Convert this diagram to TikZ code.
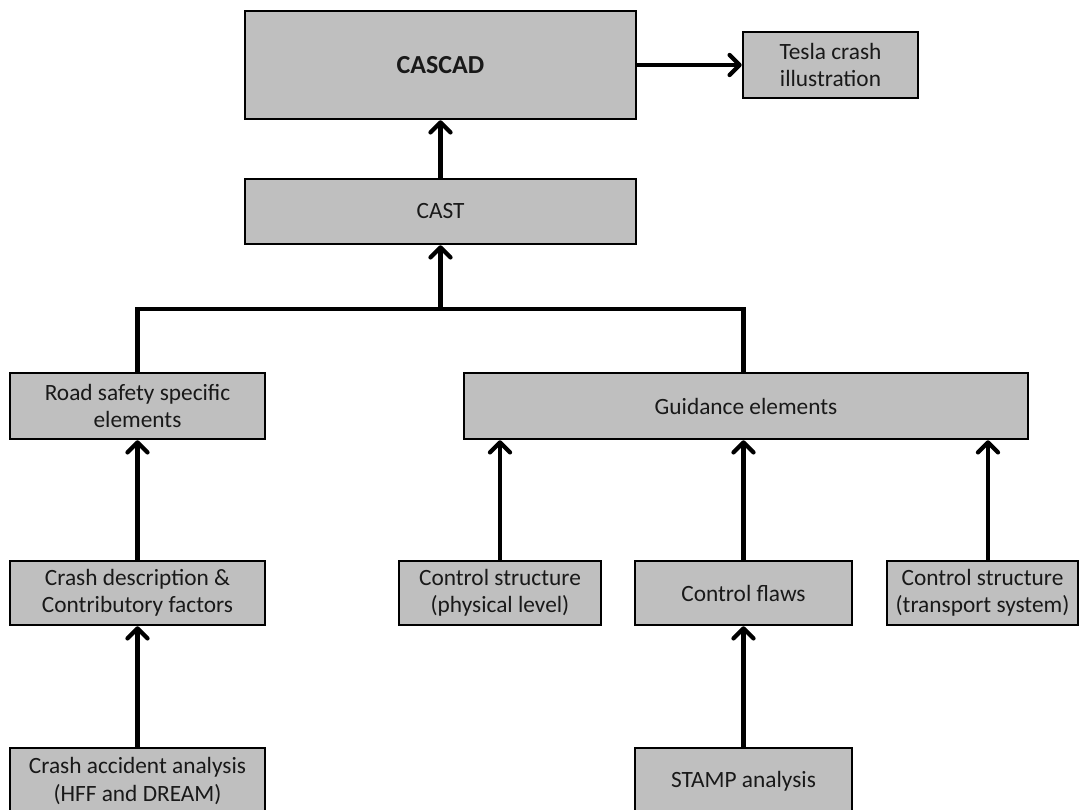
\documentclass[tikz,border=0pt]{standalone}
\usepackage{fontspec}
\setmainfont{Carlito}
\usetikzlibrary{arrows.meta}
\definecolor{boxfill}{HTML}{BFBFBF}
\begin{document}
\begin{tikzpicture}[x=0.75pt,y=-0.75pt,
  block/.style={draw=black,fill=boxfill,line width=1.9pt,inner sep=2pt,
    align=center,font=\fontsize{17.5}{20.5}\selectfont,text=black!90},
  link/.style={line width=3.2pt,draw=black},
  arrowlink/.style={link,-{Straight Barb[length=7.5pt,width=15pt,line cap=round,line join=round]}}]
\useasboundingbox (0,0) rectangle (1079,810);

% top level
\node[block,minimum width={391*0.75pt},minimum height={108*0.75pt},
      font=\fontsize{19.5}{23}\selectfont\bfseries] (cascad) at (440.5,65) {CASCAD};
\node[block,minimum width={175*0.75pt},minimum height={66*0.75pt}] (tesla) at (830.5,65)
  {Tesla crash\\illustration};
\node[block,minimum width={391*0.75pt},minimum height={65*0.75pt}] (cast) at (440.5,211.5) {CAST};

% second level
\node[block,minimum width={255*0.75pt},minimum height={66*0.75pt}] (road) at (137.5,406)
  {Road safety specific\\elements};
\node[block,minimum width={564*0.75pt},minimum height={66*0.75pt}] (guid) at (746,406)
  {Guidance elements};

% third level
\node[block,minimum width={255*0.75pt},minimum height={64*0.75pt}] (crash) at (137.5,593)
  {Crash description \&\\Contributory factors};
\node[block,minimum width={202*0.75pt},minimum height={64*0.75pt}] (phys) at (500,593)
  {Control structure\\(physical level)};
\node[block,minimum width={217*0.75pt},minimum height={64*0.75pt}] (flaws) at (743.5,593)
  {Control flaws};
\node[block,minimum width={191*0.75pt},minimum height={64*0.75pt}] (trans) at (982.5,593)
  {Control structure\\(transport system)};

% bottom level
\node[block,minimum width={255*0.75pt},minimum height={66*0.75pt}] (accident) at (137.5,781)
  {Crash accident analysis\\(HFF and DREAM)};
\node[block,minimum width={217*0.75pt},minimum height={66*0.75pt}] (stamp) at (743.5,781)
  {STAMP analysis};

% connectors
\draw[arrowlink] (cascad.east) -- (tesla.west);
\draw[arrowlink] (cast.north) -- (cascad.south);

\coordinate (bus) at (440.5,309);
\draw[link] (road.north) |- (bus) -| (flaws.north |- guid.north);
\draw[arrowlink] (bus) -- (cast.south);

\draw[arrowlink] (crash.north) -- (road.south);
\draw[arrowlink] (accident.north) -- (crash.south);
\draw[arrowlink] (phys.north) -- (phys.north |- guid.south);
\draw[arrowlink] (flaws.north) -- (flaws.north |- guid.south);
\draw[arrowlink] ([xshift=4.1pt]trans.north) -- ([xshift=4.1pt]trans.north |- guid.south);
\draw[arrowlink] (stamp.north) -- (flaws.south);
\end{tikzpicture}
\end{document}
